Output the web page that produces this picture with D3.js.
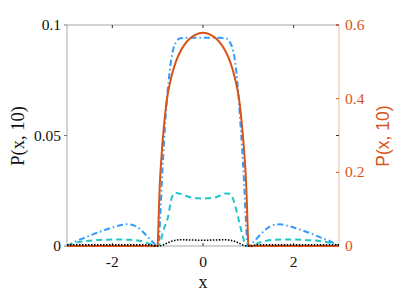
<!DOCTYPE html>
<html lang="en">
<head>
<meta charset="utf-8">
<script src="https://cdnjs.cloudflare.com/ajax/libs/d3/7.8.5/d3.min.js"></script>
<style>
  body { margin: 0; background: #fff; }
</style>
</head>
<body>
<svg id="canvas" width="407" height="296"></svg>
<script>
// tick values
const xTicks = [-2, 0, 2];
const leftTicks = [0, 0.05, 0.1];
const rightTicks = [0, 0.2, 0.4, 0.6];

// blue dash-dot (left axis)
const blueX = [-3, -2.8, -2.6, -2.4, -2.2, -2, -1.8, -1.7, -1.6, -1.5, -1.4, -1.3, -1.2, -1.1, -1,
  -0.97, -0.94, -0.9, -0.86, -0.82, -0.78, -0.74, -0.7, -0.65, -0.6, -0.55, -0.5, -0.3, 0, 0.3, 0.5, 0.55, 0.6,
  0.65, 0.7, 0.74, 0.78, 0.82, 0.86, 0.9, 0.94, 0.97, 1,
  1.1, 1.2, 1.3, 1.4, 1.5, 1.6, 1.7, 1.8, 2, 2.2, 2.4, 2.6, 2.8, 3];
const blueY = [0, 0.0022, 0.0038, 0.0055, 0.0070, 0.0084, 0.0095, 0.0098, 0.0097, 0.0091, 0.0078, 0.0059, 0.0037, 0.0016, 0,
  0.003, 0.015, 0.032, 0.047, 0.060, 0.070, 0.078, 0.0845, 0.0895, 0.0920, 0.0934, 0.0940, 0.0942, 0.0942, 0.0942, 0.0940, 0.0934, 0.0920,
  0.0895, 0.0845, 0.078, 0.069, 0.057, 0.045, 0.031, 0.014, 0.003, 0,
  0.0016, 0.0037, 0.0059, 0.0078, 0.0091, 0.0097, 0.0098, 0.0095, 0.0084, 0.0070, 0.0055, 0.0038, 0.0022, 0];

// cyan dashed (left axis)
const cyanX = [-3, -2.9, -2.8, -2.6, -2.4, -2.2, -2, -1.8, -1.6, -1.4, -1.3, -1.2, -1.1, -1,
  -0.95, -0.9, -0.85, -0.8, -0.77, -0.72, -0.68, -0.62, -0.5, -0.4, -0.3, -0.2, -0.1, 0,
  0.1, 0.2, 0.3, 0.4, 0.5, 0.6, 0.66, 0.7, 0.77, 0.82, 0.87, 0.93, 1,
  1.1, 1.2, 1.3, 1.4, 1.6, 1.8, 2, 2.2, 2.4, 2.6, 2.8, 2.9, 3];
const cyanY = [0, 0.0008, 0.0015, 0.0022, 0.0026, 0.0028, 0.0029, 0.0029, 0.0028, 0.0024, 0.0019, 0.0012, 0.0005, 0,
  0.001, 0.005, 0.0085, 0.011, 0.0133, 0.019, 0.0225, 0.0240, 0.0236, 0.0228, 0.0222, 0.0218, 0.0216, 0.0215,
  0.0216, 0.0218, 0.0222, 0.0230, 0.0238, 0.0236, 0.0215, 0.019, 0.0133, 0.009, 0.005, 0.001, 0,
  0.0005, 0.0012, 0.0019, 0.0024, 0.0028, 0.0029, 0.0029, 0.0028, 0.0026, 0.0022, 0.0015, 0.0008, 0];

// black dotted (left axis)
const blackX = [-3, -2, -1.2, -1, -0.9, -0.8, -0.7, -0.6, -0.5, -0.4, -0.3, -0.2, -0.1, 0,
  0.1, 0.2, 0.3, 0.4, 0.5, 0.6, 0.7, 0.8, 0.9, 1, 1.2, 2, 3];
const blackY = [0.0005, 0.0005, 0.0005, 0, 0.0003, 0.0012, 0.0021, 0.0026, 0.0028, 0.0028, 0.0027, 0.0027, 0.0026, 0.0026,
  0.0026, 0.0027, 0.0027, 0.0028, 0.0028, 0.0026, 0.0021, 0.0012, 0.0003, 0, 0.0005, 0.0005, 0.0005];

// orange solid (right axis)
const orangeX = [-3, -1.2, -1, -0.99, -0.97, -0.95, -0.92, -0.9, -0.85, -0.8, -0.7, -0.6, -0.5, -0.4, -0.3, -0.2, -0.1, 0,
  0.1, 0.2, 0.3, 0.4, 0.5, 0.6, 0.7, 0.8, 0.85, 0.9, 0.92, 0.95, 0.97, 0.99, 1, 1.2, 3];
const orangeY = [0, 0, 0, 0.03, 0.11, 0.175, 0.235, 0.27, 0.34, 0.395, 0.458, 0.50, 0.528, 0.548, 0.562, 0.571, 0.577, 0.579,
  0.577, 0.571, 0.562, 0.548, 0.528, 0.50, 0.458, 0.395, 0.34, 0.27, 0.235, 0.175, 0.11, 0.03, 0, 0, 0];

const svg = d3.select("#canvas");
const L = 67, R = 339, T = 25, B = 246;
const serif = "Liberation Serif";

const x = d3.scaleLinear().domain([-3, 3]).range([L, R]);
const yL = d3.scaleLinear().domain([0, 0.1]).range([B, T]);
const yR = d3.scaleLinear().domain([0, 0.6]).range([B, T]);

const orange = "#D95319";

// box lines
svg.append("line").attr("x1", L).attr("x2", R).attr("y1", T).attr("y2", T).attr("stroke", "#a6a6a6");
svg.append("line").attr("x1", L).attr("x2", R).attr("y1", B).attr("y2", B).attr("stroke", "#a6a6a6");
svg.append("line").attr("x1", L).attr("x2", L).attr("y1", T).attr("y2", B).attr("stroke", "#a6a6a6");
svg.append("line").attr("x1", R).attr("x2", R).attr("y1", T).attr("y2", B).attr("stroke", "#ebbaa3");

// tick marks
const tk = 3;
xTicks.forEach(function(t) {
  svg.append("line").attr("x1", x(t)).attr("x2", x(t)).attr("y1", B).attr("y2", B - tk).attr("stroke", "#333");
  svg.append("line").attr("x1", x(t)).attr("x2", x(t)).attr("y1", T).attr("y2", T + tk).attr("stroke", "#333");
});
leftTicks.forEach(function(t) {
  svg.append("line").attr("x1", L - tk).attr("x2", L).attr("y1", yL(t)).attr("y2", yL(t)).attr("stroke", "#777");
  svg.append("line").attr("x1", R - tk).attr("x2", R).attr("y1", yL(t)).attr("y2", yL(t)).attr("stroke", "#333");
});
rightTicks.forEach(function(t) {
  svg.append("line").attr("x1", R - tk).attr("x2", R).attr("y1", yR(t)).attr("y2", yR(t)).attr("stroke", orange);
});

// tick labels
svg.selectAll(".xl").data(xTicks).join("text")
  .attr("x", function(d) { return x(d); }).attr("y", 267)
  .attr("text-anchor", "middle").attr("font-size", 15.5).attr("fill", "#111")
  .attr("font-family", serif)
  .text(function(d) { return d; });
svg.selectAll(".yl").data(leftTicks).join("text")
  .attr("x", 61).attr("y", function(d) { return yL(d) + 5; })
  .attr("text-anchor", "end").attr("font-size", 15.5).attr("fill", "#111")
  .attr("font-family", serif)
  .text(function(d) { return d; });
svg.selectAll(".yr").data(rightTicks).join("text")
  .attr("x", 345).attr("y", function(d) { return yR(d) + 5; })
  .attr("text-anchor", "start").attr("font-size", 15.5).attr("fill", orange)
  .attr("font-family", serif)
  .text(function(d) { return d; });

// axis titles
svg.append("text").attr("x", 203).attr("y", 288).attr("text-anchor", "middle")
  .attr("font-family", serif)
  .attr("font-size", 18).attr("fill", "#111").text("x");
svg.append("text").attr("transform", "translate(24,136) rotate(-90)").attr("text-anchor", "middle")
  .attr("font-family", serif)
  .attr("font-size", 18.5).attr("fill", "#111").text("P(x, 10)");
svg.append("text").attr("transform", "translate(389,136) rotate(-90)").attr("text-anchor", "middle")
  .attr("font-family", "Liberation Sans")
  .attr("font-size", 17.5).attr("fill", orange).text("P(x, 10)");

// curves
function pts(xs, ys) { return xs.map(function(v, i) { return [v, ys[i]]; }); }
const lineL = d3.line().x(function(d) { return x(d[0]); }).y(function(d) { return yL(d[1]); }).curve(d3.curveMonotoneX);
const lineR = d3.line().x(function(d) { return x(d[0]); }).y(function(d) { return yR(d[1]); }).curve(d3.curveMonotoneX);

svg.append("path").attr("d", lineL(pts(blueX, blueY)))
  .attr("fill", "none").attr("stroke", "#3399ff").attr("stroke-width", 2).attr("stroke-dasharray", "6,3,1.5,3");
svg.append("path").attr("d", lineL(pts(cyanX, cyanY)))
  .attr("fill", "none").attr("stroke", "#1fc6c6").attr("stroke-width", 2).attr("stroke-dasharray", "6,4");
svg.append("path").attr("d", lineR(pts(orangeX, orangeY)))
  .attr("fill", "none").attr("stroke", orange).attr("stroke-width", 2);
svg.append("path").attr("d", lineL(pts(blackX, blackY)))
  .attr("fill", "none").attr("stroke", "#000").attr("stroke-width", 1.6).attr("stroke-dasharray", "1.5,1.5");
</script>
</body>
</html>
